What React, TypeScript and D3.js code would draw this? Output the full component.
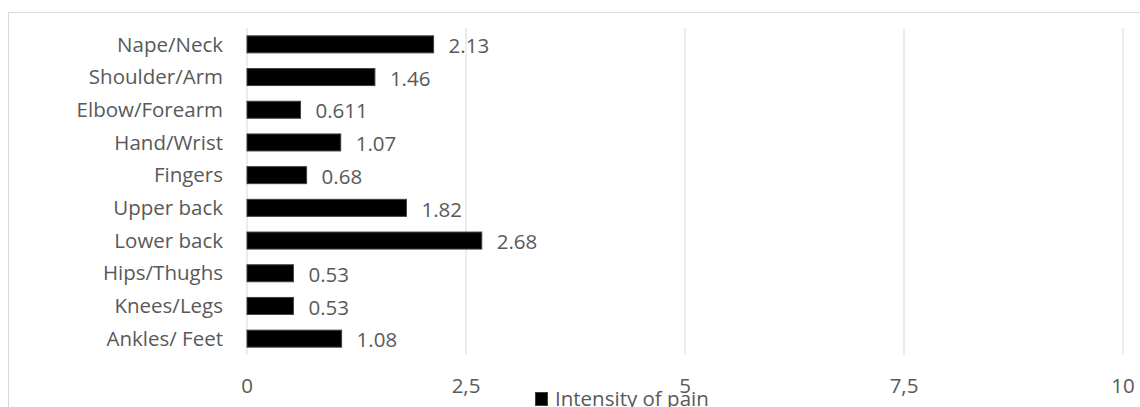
import React from "react";
import * as d3 from "d3";

const categories = [
  "Nape/Neck",
  "Shoulder/Arm",
  "Elbow/Forearm",
  "Hand/Wrist",
  "Fingers",
  "Upper back",
  "Lower back",
  "Hips/Thughs",
  "Knees/Legs",
  "Ankles/ Feet",
];
const values = [2.13, 1.46, 0.611, 1.07, 0.68, 1.82, 2.68, 0.53, 0.53, 1.08];
const valueLabels = ["2.13", "1.46", "0.611", "1.07", "0.68", "1.82", "2.68", "0.53", "0.53", "1.08"];
const ticks = [0, 2.5, 5, 7.5, 10];
const tickLabels = ["0", "2,5", "5", "7,5", "10"];
const seriesName = "Intensity of pain";

const W = 1140;
const H = 407;
const FONT = "'Open Sans', 'Liberation Sans', sans-serif";
const TEXT = "#595959";
const FS = 20.5;

export default function App() {
  const x = d3.scaleLinear().domain([0, 10]).range([247, 1123]);
  const y = d3.scaleBand().domain(categories).range([28, 355]).paddingInner(0.48).paddingOuter(0.24);

  return (
    <svg width={W} height={H} style={{ position: "absolute", left: 0, top: 0 }}>
      <rect x={0} y={0} width={W} height={H} fill="#fff" />
      <rect x={8.5} y={12.5} width={W + 20} height={H + 20} fill="none" stroke="#d9d9d9" strokeWidth={1} />
      {ticks.map((t, i) => (
        <line key={"g" + i} x1={x(t)} x2={x(t)} y1={28} y2={355} stroke="#d9d9d9" strokeWidth={1} />
      ))}
      {categories.map((c, i) => (
        <g key={c}>
          <rect
            x={x(0)}
            y={y(c)!}
            width={x(values[i]) - x(0)}
            height={y.bandwidth()}
            fill="#000"
            stroke="#404040"
            strokeWidth={1}
          />
          <text
            x={x(0) - 24}
            y={y(c)! + y.bandwidth() / 2}
            dy="0.35em"
            textAnchor="end"
            fontFamily={FONT}
            fontSize={FS}
            fill={TEXT}
          >
            {c}
          </text>
          <text
            x={x(values[i]) + 15}
            y={y(c)! + y.bandwidth() / 2 + 1.5}
            dy="0.35em"
            textAnchor="start"
            fontFamily={FONT}
            fontSize={FS}
            fill={TEXT}
          >
            {valueLabels[i]}
          </text>
        </g>
      ))}
      {ticks.map((t, i) => (
        <text
          key={"t" + i}
          x={x(t)}
          y={385.5}
          dy="0.35em"
          textAnchor="middle"
          fontFamily={FONT}
          fontSize={FS}
          fill={TEXT}
        >
          {tickLabels[i]}
        </text>
      ))}
      <rect x={535.5} y={392.5} width={12} height={13} fill="#000" stroke="#404040" strokeWidth={1} />
      <text x={555} y={399} dy="0.35em" fontFamily={FONT} fontSize={FS} fill={TEXT}>
        {seriesName}
      </text>
    </svg>
  );
}
